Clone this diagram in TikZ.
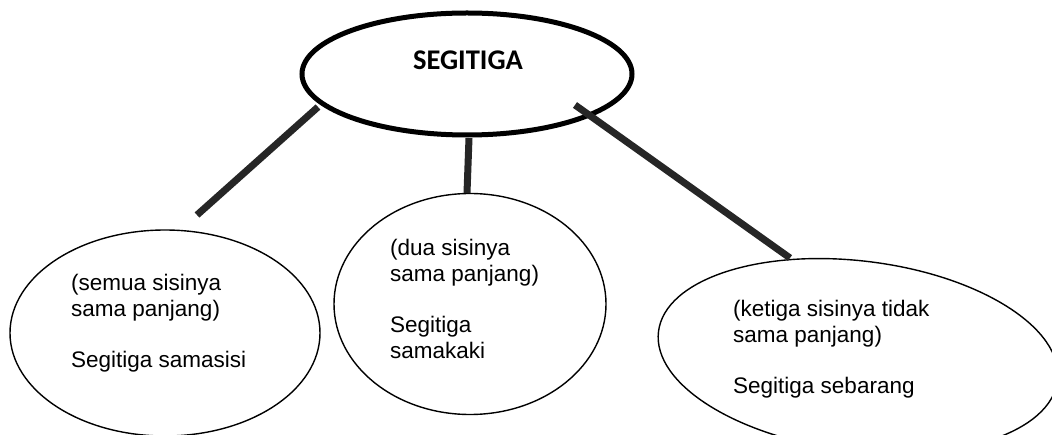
\documentclass[tikz,border=0pt]{standalone}
\usepackage{fontspec}
\setmainfont{Liberation Sans}
\newfontfamily\titlefont{Carlito}
\usetikzlibrary{shapes.geometric}
\definecolor{linkgray}{HTML}{262626}
\tikzset{
  x=1pt, y=-1pt,
  bubble/.style={ellipse, draw=black, line width=1.4pt, inner sep=0pt},
  rootbubble/.style={ellipse, draw=black, line width=5pt, inner sep=0pt},
  bubbletext/.style={anchor=base west, inner sep=0pt, align=left,
    font=\fontsize{22.5}{26.5}\selectfont},
  link/.style={draw=linkgray, line width=7pt}
}
\begin{document}
\begin{tikzpicture}
\clip (0,0) rectangle (1052,435);
\fill[white] (0,0) rectangle (1052,435);
% nodes
\node[rootbubble, minimum width=330pt, minimum height=122pt] (root) at (467,74) {};
\node[anchor=base, inner sep=0pt, font=\titlefont\bfseries\fontsize{28.5}{31}\selectfont] (title) at (468,70) {SEGITIGA};

\node[bubble, minimum width=310pt, minimum height=206pt] (e1) at (165,333) {};
\node[bubbletext] (t1) at (71,367) {(semua sisinya\\sama panjang)\\[24pt]Segitiga samasisi};

\node[bubble, minimum width=272pt, minimum height=221pt] (e2) at (470,304) {};
\node[bubbletext] (t2) at (390,359) {(dua sisinya\\sama panjang)\\[24pt]Segitiga\\samakaki};

\node[bubble, minimum width=402pt, minimum height=190pt, rotate=-7] (e3) at (858,356) {};
\node[bubbletext] (t3) at (733,393) {(ketiga sisinya tidak\\sama panjang)\\[24pt]Segitiga sebarang};

% connector ends
\coordinate (l1a) at (318,107);
\coordinate (l1b) at (197,215);
\coordinate (l2a) at (469,138);
\coordinate (l2b) at (467,193);
\coordinate (l3a) at (575,105);
\coordinate (l3b) at (790,258);

\draw[link] (l1a) -- (l1b);
\draw[link] (l2a) -- (l2b);
\draw[link] (l3a) -- (l3b);
\end{tikzpicture}
\end{document}
